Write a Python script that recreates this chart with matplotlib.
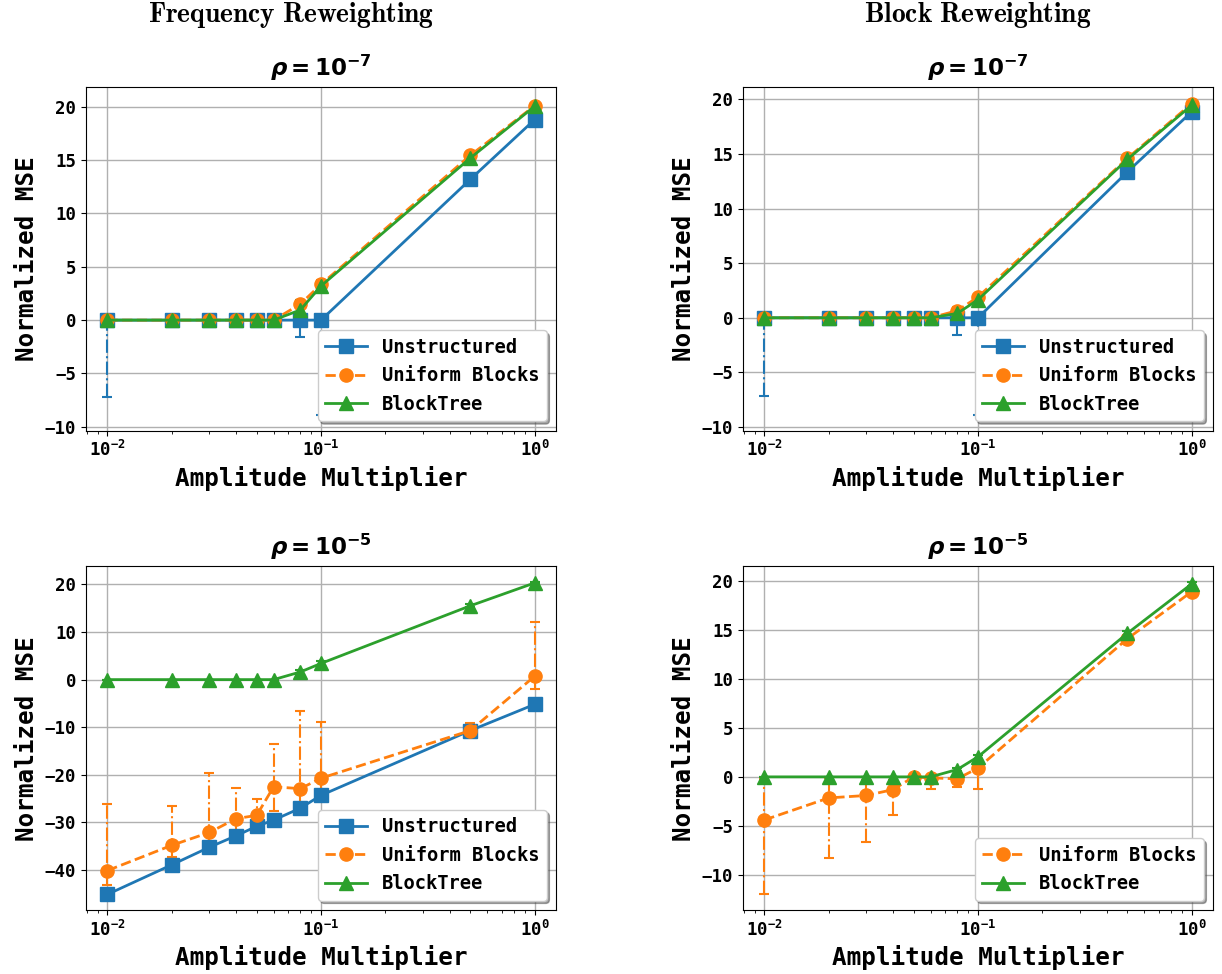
import matplotlib
matplotlib.use("Agg")
import matplotlib.pyplot as plt
import numpy as np

# amplitude multipliers (x axis)
amps = [0.01, 0.02, 0.03, 0.04, 0.05, 0.06, 0.08, 0.1, 0.5, 1.0]

# Frequency reweighting, rho = 1e-7
freq7_unstr = [0, 0, 0, 0, 0, 0, 0, 0, 13.2, 18.8]
freq7_unstr_lo = [7.2, 0, 0, 0, 0, 0, 1.6, 8.9, 0.2, 0.2]
freq7_unstr_hi = [0, 0, 0, 0, 0, 0, 0.1, 0, 0.2, 0.2]
freq7_unif = [0, 0, 0, 0, 0, 0, 1.5, 3.35, 15.45, 20.1]
freq7_unif_lo = [0, 0, 0, 0, 0, 0, 0.3, 0.4, 0.3, 0.3]
freq7_unif_hi = [0, 0, 0, 0, 0, 0, 0.3, 0.4, 0.3, 0.3]
freq7_tree = [0, 0, 0, 0, 0, 0, 0.95, 3.2, 15.2, 20.05]
freq7_tree_lo = [0, 0, 0, 0, 0, 0, 0.9, 0.5, 0.3, 0.3]
freq7_tree_hi = [0, 0, 0, 0, 0, 0, 0.9, 0.5, 0.3, 0.3]

# Block reweighting, rho = 1e-7
block7_unstr = [0, 0, 0, 0, 0, 0, 0, 0, 13.35, 18.85]
block7_unstr_lo = [7.2, 0, 0, 0, 0, 0, 1.6, 8.9, 0.2, 0.2]
block7_unstr_hi = [0, 0, 0, 0, 0, 0, 0.1, 0, 0.2, 0.2]
block7_unif = [0, 0, 0, 0, 0, 0, 0.65, 1.9, 14.6, 19.6]
block7_unif_lo = [0, 0, 0, 0, 0, 0, 0.3, 0.3, 0.2, 0.1]
block7_unif_hi = [0, 0, 0, 0, 0, 0, 0.3, 0.3, 0.2, 0.1]
block7_tree = [0, 0, 0, 0, 0, 0, 0.4, 1.65, 14.5, 19.45]
block7_tree_lo = [0, 0, 0, 0, 0, 0, 0.3, 0.4, 0.2, 0.2]
block7_tree_hi = [0, 0, 0, 0, 0, 0, 0.3, 0.4, 0.2, 0.2]

# Frequency reweighting, rho = 1e-5
freq5_unstr = [-45.1, -38.9, -35.2, -32.8, -30.8, -29.5, -27.0, -24.3, -10.7, -5.2]
freq5_unif = [-40.1, -34.8, -32.1, -29.2, -28.5, -22.5, -22.9, -20.7, -10.7, 0.7]
freq5_unif_lo = [3.0, 2.5, 2.2, 3.1, 2.1, 5.0, 3.2, 3.3, 0.8, 2.7]
freq5_unif_hi = [14.0, 8.2, 12.5, 6.4, 3.5, 9.0, 16.4, 11.7, 1.6, 11.5]
freq5_tree = [0, 0, 0, 0, 0, 0, 1.6, 3.4, 15.5, 20.3]
freq5_tree_lo = [0, 0, 0, 0, 0, 0, 0.5, 0.5, 0.3, 0.2]
freq5_tree_hi = [0, 0, 0, 0, 0, 0, 0.5, 0.5, 0.3, 0.2]

# Block reweighting, rho = 1e-5
block5_unif = [-4.4, -2.15, -1.9, -1.3, 0.0, -0.1, -0.2, 0.9, 14.1, 18.9]
block5_unif_lo = [7.6, 6.15, 4.8, 2.55, 0.5, 1.1, 0.8, 2.1, 0.2, 0.2]
block5_unif_hi = [4.2, 2.0, 1.6, 1.0, 0.3, 0.3, 0.3, 0.3, 0.2, 0.2]
block5_tree = [0, 0, 0, 0, 0, 0, 0.75, 2.05, 14.65, 19.7]
block5_tree_lo = [0, 0, 0, 0, 0, 0, 0.2, 0.2, 0.2, 0.2]
block5_tree_hi = [0, 0, 0, 0, 0, 0, 0.2, 0.2, 0.2, 0.2]

labels = ["Unstructured", "Uniform Blocks", "BlockTree"]
colors = ["#1f77b4", "#ff7f0e", "#2ca02c"]
markers = ["s", "o", "^"]
styles = ["-", "--", "-"]

mono = "DejaVu Sans Mono"


def draw_series(ax, idx, y, lo, hi):
    res = ax.errorbar(amps, y, yerr=[lo, hi], color=colors[idx], marker=markers[idx],
                      linestyle=styles[idx], markersize=9.5, linewidth=2, elinewidth=1.5,
                      capsize=3.5, capthick=1.5)
    res[2][0].set_linestyle("-.")
    res[0].set_label(labels[idx])
    return res[0]


def style_axes(ax, title, handles):
    ax.set_xscale("log")
    ax.grid(True, which="major", color="#b0b0b0", linewidth=1)
    ax.set_axisbelow(True)
    ax.set_title(title, fontsize=16.5, pad=8)
    ax.set_xlabel("Amplitude Multiplier", family=mono, fontweight="bold", fontsize=17.5)
    ax.set_ylabel("Normalized MSE", family=mono, fontweight="bold", fontsize=17.5)
    for lab in ax.get_xticklabels() + ax.get_yticklabels():
        lab.set_family(mono)
        lab.set_fontweight("bold")
    ax.tick_params(labelsize=12.5)
    ax.legend(handles=handles, labels=[hd.get_label() for hd in handles], loc="lower right",
              shadow=True, prop={"family": mono, "weight": "bold", "size": 13.5}, handlelength=2.2)


fig, axs = plt.subplots(2, 2, figsize=(12.22, 9.74), dpi=100)
fig.subplots_adjust(left=0.0704, right=0.9926, top=0.9107, bottom=0.0657, wspace=0.398, hspace=0.395)

t7 = r"$\mathbfit{\rho}\mathbf{=10^{-7}}$"
t5 = r"$\mathbfit{\rho}\mathbf{=10^{-5}}$"

ax = axs[0, 0]
h = [draw_series(ax, 0, freq7_unstr, freq7_unstr_lo, freq7_unstr_hi),
     draw_series(ax, 1, freq7_unif, freq7_unif_lo, freq7_unif_hi),
     draw_series(ax, 2, freq7_tree, freq7_tree_lo, freq7_tree_hi)]
ax.set_yticks([-10, -5, 0, 5, 10, 15, 20])
style_axes(ax, t7, h)

ax = axs[0, 1]
h = [draw_series(ax, 0, block7_unstr, block7_unstr_lo, block7_unstr_hi),
     draw_series(ax, 1, block7_unif, block7_unif_lo, block7_unif_hi),
     draw_series(ax, 2, block7_tree, block7_tree_lo, block7_tree_hi)]
ax.set_yticks([-10, -5, 0, 5, 10, 15, 20])
style_axes(ax, t7, h)

ax = axs[1, 0]
h = [draw_series(ax, 0, freq5_unstr, [0] * 10, [0] * 10),
     draw_series(ax, 1, freq5_unif, freq5_unif_lo, freq5_unif_hi),
     draw_series(ax, 2, freq5_tree, freq5_tree_lo, freq5_tree_hi)]
ax.set_yticks([-40, -30, -20, -10, 0, 10, 20])
style_axes(ax, t5, h)

ax = axs[1, 1]
h = [draw_series(ax, 1, block5_unif, block5_unif_lo, block5_unif_hi),
     draw_series(ax, 2, block5_tree, block5_tree_lo, block5_tree_hi)]
ax.set_yticks([-10, -5, 0, 5, 10, 15, 20])
style_axes(ax, t5, h)

fig.text(0.238, 0.985, r"$\mathbf{Frequency\ Reweighting}$", math_fontfamily="cm",
         fontsize=19.8, ha="center", va="center")
fig.text(0.800, 0.985, r"$\mathbf{Block\ Reweighting}$", math_fontfamily="cm",
         fontsize=19.8, ha="center", va="center")

fig.savefig("out.png", dpi=100)
